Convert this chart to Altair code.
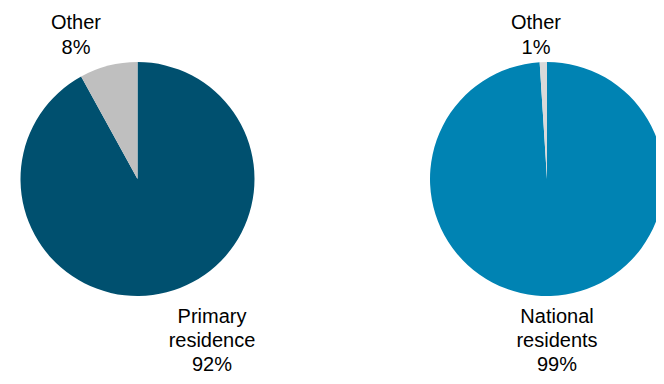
import altair as alt
import pandas as pd

left_categories = ["Primary residence", "Other"]
left_values = [92, 8]
right_categories = ["National residents", "Other"]
right_values = [99, 1]

left_colors = ["#00506f", "#bfbfbf"]
right_colors = ["#0083b3", "#d9d9d9"]


def frame(cats, vals):
    return pd.DataFrame({
        "category": cats,
        "value": vals,
        "order": list(range(len(cats))),
        "label": [c.replace(" ", "\n") + f"\n{v}%" for c, v in zip(cats, vals)],
    })


df_left = frame(left_categories, left_values)
df_right = frame(right_categories, right_values)

R = 117


def pie(df, cats, colors, cx, cy):
    return alt.Chart(df).mark_arc(radius=R).encode(
        theta=alt.Theta("value:Q", stack=True),
        order=alt.Order("order:Q"),
        color=alt.Color("category:N", scale=alt.Scale(domain=cats, range=colors), legend=None),
        x=alt.value(cx),
        y=alt.value(cy),
    )


def label(df, cat, x, y, lh=25):
    return alt.Chart(df).transform_filter(alt.datum.category == cat).mark_text(
        font="Liberation Sans", fontSize=20, lineBreak="\n", lineHeight=lh,
        align="center", baseline="alphabetic", color="#000000",
    ).encode(text="label:N", x=alt.value(x), y=alt.value(y))


chart = alt.layer(
    pie(df_left, left_categories, left_colors, 129.5, 171),
    pie(df_right, right_categories, right_colors, 539, 171),
    label(df_left, "Other", 68, 21),
    label(df_left, "Primary residence", 204, 315, 24),
    label(df_right, "Other", 528, 21),
    label(df_right, "National residents", 549, 315, 24),
).resolve_scale(color="independent", theta="independent").properties(
    width=648, height=368, autosize="none", padding=0
).configure_view(strokeWidth=0)

chart.save("out.html", embed_options={"renderer": "svg", "actions": False})
